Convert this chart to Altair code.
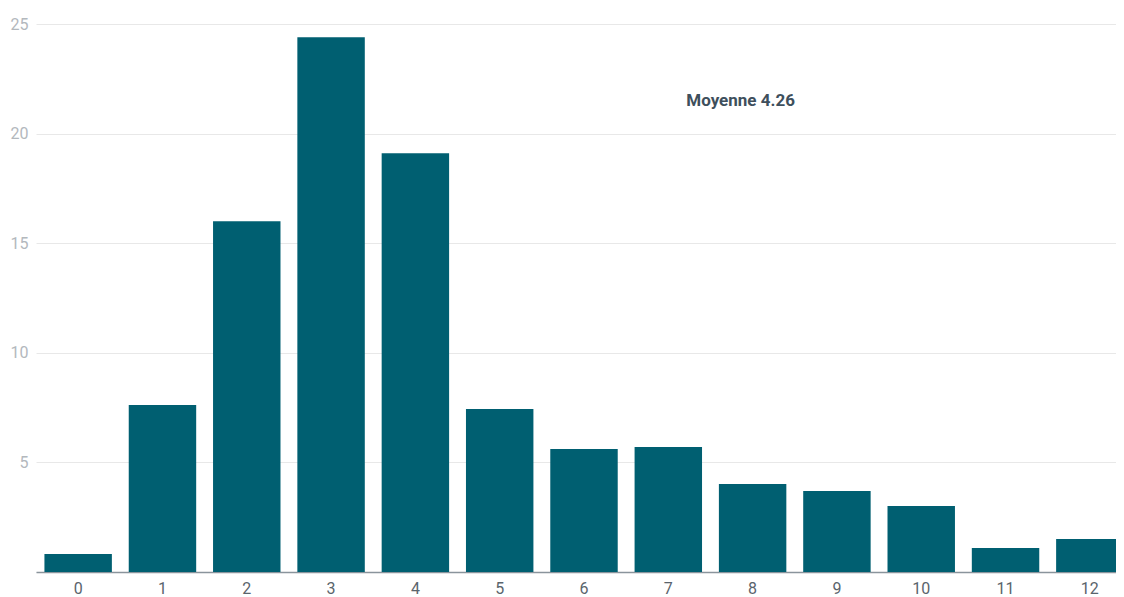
import altair as alt
import pandas as pd

categories = [str(i) for i in range(13)]
values = [0.82, 7.62, 16.0, 24.4, 19.1, 7.44, 5.61, 5.70, 4.01, 3.70, 3.01, 1.09, 1.50]
y_ticks = [0, 5, 10, 15, 20, 25]

annot_text = ["Moyenne 4.26"]
annot_x = ["8"]
annot_y = [21.5]

df = pd.DataFrame({"cat": categories, "val": values})
ann = pd.DataFrame({"cat": annot_x, "val": annot_y, "label": annot_text})

FONT = "Roboto"

xscale = alt.Scale(domain=categories, range=[0, 1096], paddingInner=0.2, paddingOuter=0.1)
yscale = alt.Scale(domain=[0, 25], nice=False)

bars = alt.Chart(df).mark_bar(color="#005f71").encode(
    x=alt.X("cat:N", sort=categories, scale=xscale, title=None, axis=alt.Axis(labelAngle=0)),
    y=alt.Y("val:Q", scale=yscale, title=None,
            axis=alt.Axis(values=y_ticks, labelExpr="datum.value == 0 ? '' : datum.label")),
)

text = alt.Chart(ann).mark_text(fontWeight="bold", fontSize=17, font=FONT, color="#3e4f5c", dx=-12).encode(
    x=alt.X("cat:N", sort=categories, scale=xscale),
    y=alt.Y("val:Q", scale=yscale),
    text="label:N",
)

chart = (bars + text).properties(
    width=1080, height=548,
    background="white",
    autosize=alt.AutoSizeParams(type="none"),
    padding={"left": 28, "top": 16, "right": 0, "bottom": 25},
).configure_view(stroke="transparent", strokeWidth=0).configure_axisX(
    ticks=False, domainColor="#8a949c", domainWidth=1.5, labelColor="#5a646c",
    labelFontSize=16, labelFont=FONT, labelPadding=8, grid=False, labelAngle=0,
).configure_axisY(
    ticks=False, domain=False, labelColor="#b3b8bd", labelFontSize=16, labelFont=FONT,
    labelPadding=8, gridColor="#e8e8e8", gridWidth=1,
)

chart.save("out.html", embed_options={"renderer": "svg", "actions": False})
